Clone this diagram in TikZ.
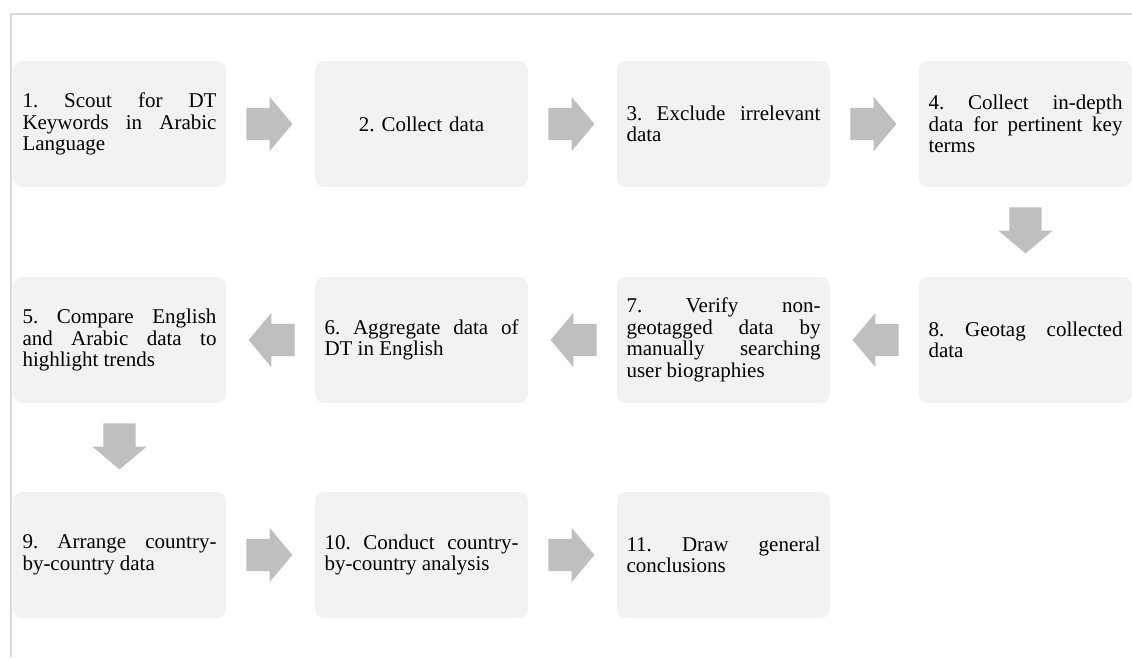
\documentclass[tikz,border=0pt]{standalone}
\usepackage{fontspec}
\setmainfont{Liberation Serif}
\usetikzlibrary{shapes.arrows}

\definecolor{boxfill}{HTML}{F2F2F2}
\definecolor{arrowfill}{HTML}{BFBFBF}
\definecolor{framegray}{HTML}{D9D9D9}

\tikzset{
  stage/.style={rectangle, rounded corners=9pt, fill=boxfill,
    minimum width=213pt, minimum height=126pt, text width=194pt,
    inner xsep=9.5pt, inner ysep=0pt, align=justify,
    font=\fontsize{21}{21.5}\selectfont\frenchspacing},
  flow/.style={single arrow, fill=arrowfill, inner sep=0pt,
    text height=32pt, text depth=0pt, minimum height=46pt,
    single arrow head extend=11pt, single arrow tip angle=100,
    anchor=tail}
}

\begin{document}
\begin{tikzpicture}[x=1pt, y=-1pt]
  \useasboundingbox (0,0) rectangle (1132,657);
  \draw[framegray, line width=2pt] (10,13.5) -- (1132,13.5);
  \draw[framegray, line width=2pt] (11,12.5) -- (11,657);

  % first row
  \node[stage] (s1) at (119.5,124) {1. Scout for DT\linebreak Keywords in Arabic\linebreak Language};
  \node[stage, align=center] (s2) at (421.5,124) {2. Collect data};
  \node[stage] (s3) at (723.5,124) {3. Exclude irrelevant\linebreak data};
  \node[stage] (s4) at (1025.5,124) {4. Collect in-depth\linebreak data for pertinent key\linebreak terms};

  % second row
  \node[stage] (s5) at (119.5,340) {5. Compare English\linebreak and Arabic data to\linebreak highlight trends};
  \node[stage] (s6) at (421.5,340) {6. Aggregate data of\linebreak DT in English};
  \node[stage] (s7) at (723.5,340) {7. Verify non-\linebreak geotagged data by\linebreak manually searching\linebreak user biographies};
  \node[stage] (s8) at (1025.5,340) {8. Geotag collected\linebreak data};

  % third row
  \node[stage] (s9) at (119.5,555) {9. Arrange country-\linebreak by-country data};
  \node[stage] (s10) at (421.5,555) {10. Conduct country-\linebreak by-country analysis};
  \node[stage] (s11) at (723.5,555) {11. Draw general\linebreak conclusions};

  % block arrows, tail 20pt off the box
  \node[flow] (a12) at ([xshift=20pt]s1.east) {};
  \node[flow] (a23) at ([xshift=20pt]s2.east) {};
  \node[flow] (a34) at ([xshift=20pt]s3.east) {};
  \node[flow, rotate=-90] (a48) at ([yshift=-20pt]s4.south) {};
  \node[flow, rotate=180] (a87) at ([xshift=-20pt]s8.west) {};
  \node[flow, rotate=180] (a76) at ([xshift=-20pt]s7.west) {};
  \node[flow, rotate=180] (a65) at ([xshift=-20pt]s6.west) {};
  \node[flow, rotate=-90] (a59) at ([yshift=-20pt]s5.south) {};
  \node[flow] (a910) at ([xshift=20pt]s9.east) {};
  \node[flow] (a1011) at ([xshift=20pt]s10.east) {};
\end{tikzpicture}
\end{document}
